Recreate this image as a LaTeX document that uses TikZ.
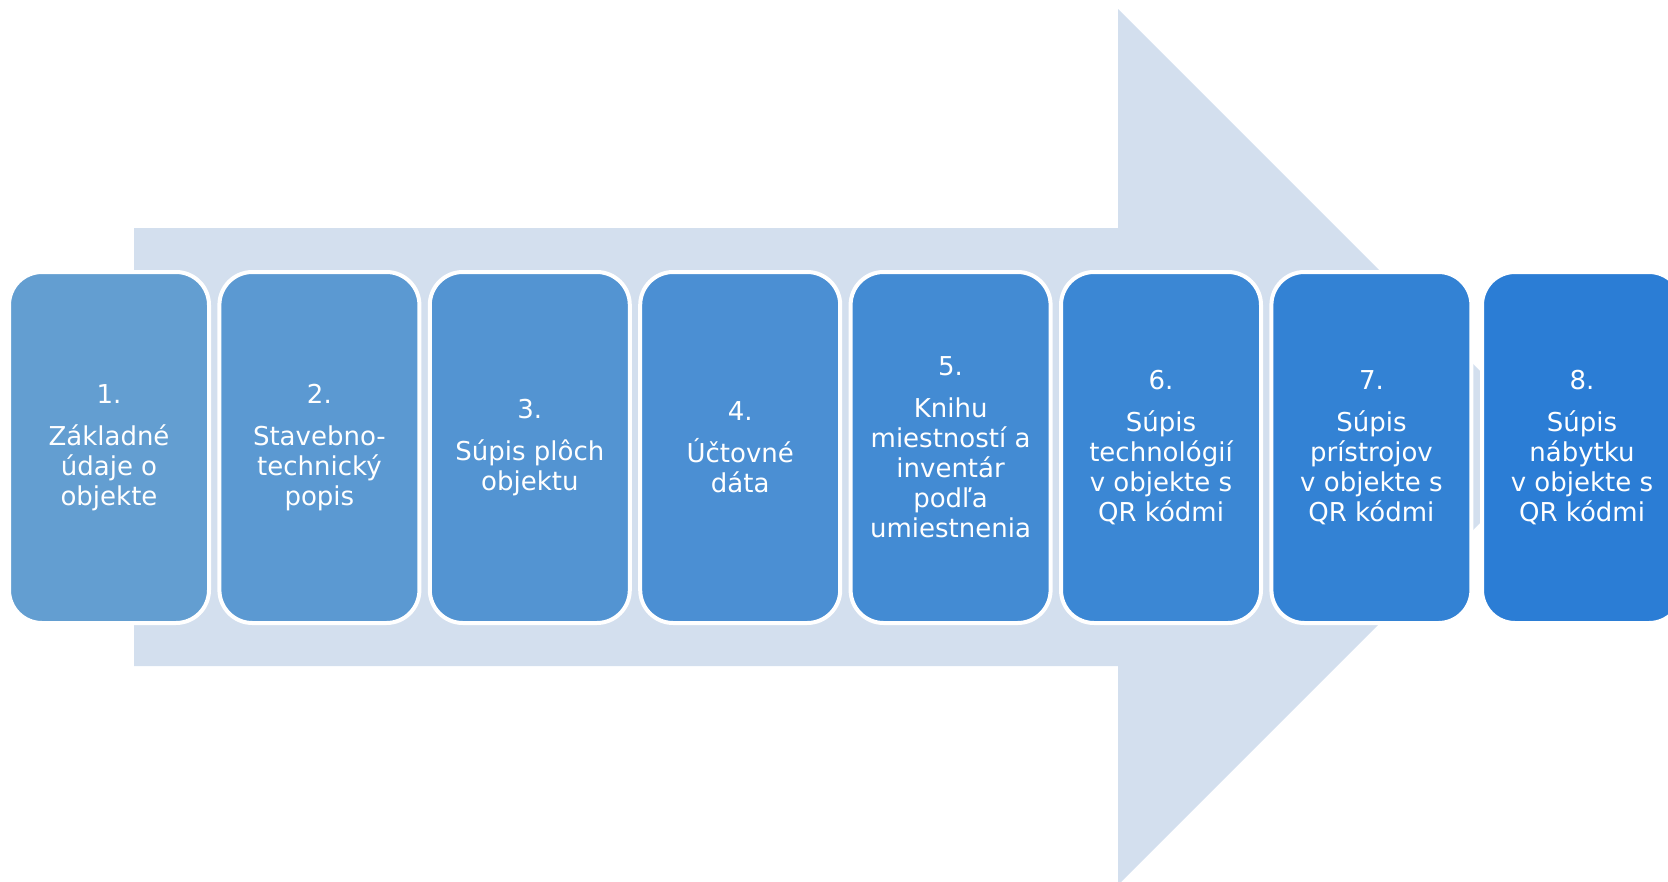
\documentclass[tikz,border=0pt]{standalone}
\usepackage{fontspec}
\newfontfamily\boxfont{DejaVu Sans}
\definecolor{arrowc}{RGB}{211,223,238}
\definecolor{c1}{RGB}{99,158,209}
\definecolor{c2}{RGB}{91,153,210}
\definecolor{c3}{RGB}{83,148,210}
\definecolor{c4}{RGB}{75,143,211}
\definecolor{c5}{RGB}{67,139,211}
\definecolor{c6}{RGB}{59,135,212}
\definecolor{c7}{RGB}{51,130,212}
\definecolor{c8}{RGB}{43,125,213}
\tikzset{
  stepbox/.style={rectangle, rounded corners=33pt, draw=white, line width=4pt,
    minimum width=200pt, minimum height=351pt, inner sep=0pt,
    text=white, align=center, font=\boxfont\fontsize{26}{30}\selectfont},
}
\begin{document}
\begin{tikzpicture}[x=1pt,y=-1pt]
\useasboundingbox (0,0) rectangle (1668,881);
\clip (0,0) rectangle (1668,881);
\fill[arrowc] (134,228) -- (1118,228) -- (1118,9) -- (1556,447) -- (1118,885) -- (1118,666) -- (134,666) -- cycle;
\node[stepbox, fill=c1] (b1) at (109,447.5) {1.\\[12pt]Základné\\údaje o\\objekte};
\node[stepbox, fill=c2] (b2) at (319.4,447.5) {2.\\[12pt]Stavebno-\\technický\\popis};
\node[stepbox, fill=c3] (b3) at (529.8,447.5) {3.\\[12pt]Súpis plôch\\objektu};
\node[stepbox, fill=c4] (b4) at (740.2,447.5) {4.\\[12pt]Účtovné\\dáta};
\node[stepbox, fill=c5] (b5) at (950.6,447.5) {5.\\[12pt]Knihu\\miestností a\\inventár\\podľa\\umiestnenia};
\node[stepbox, fill=c6] (b6) at (1161,447.5) {6.\\[12pt]Súpis\\technológií\\v objekte s\\QR kódmi};
\node[stepbox, fill=c7] (b7) at (1371.4,447.5) {7.\\[12pt]Súpis\\prístrojov\\v objekte s\\QR kódmi};
\node[stepbox, fill=c8] (b8) at (1582,447.5) {8.\\[12pt]Súpis\\nábytku\\v objekte s\\QR kódmi};
\end{tikzpicture}
\end{document}
